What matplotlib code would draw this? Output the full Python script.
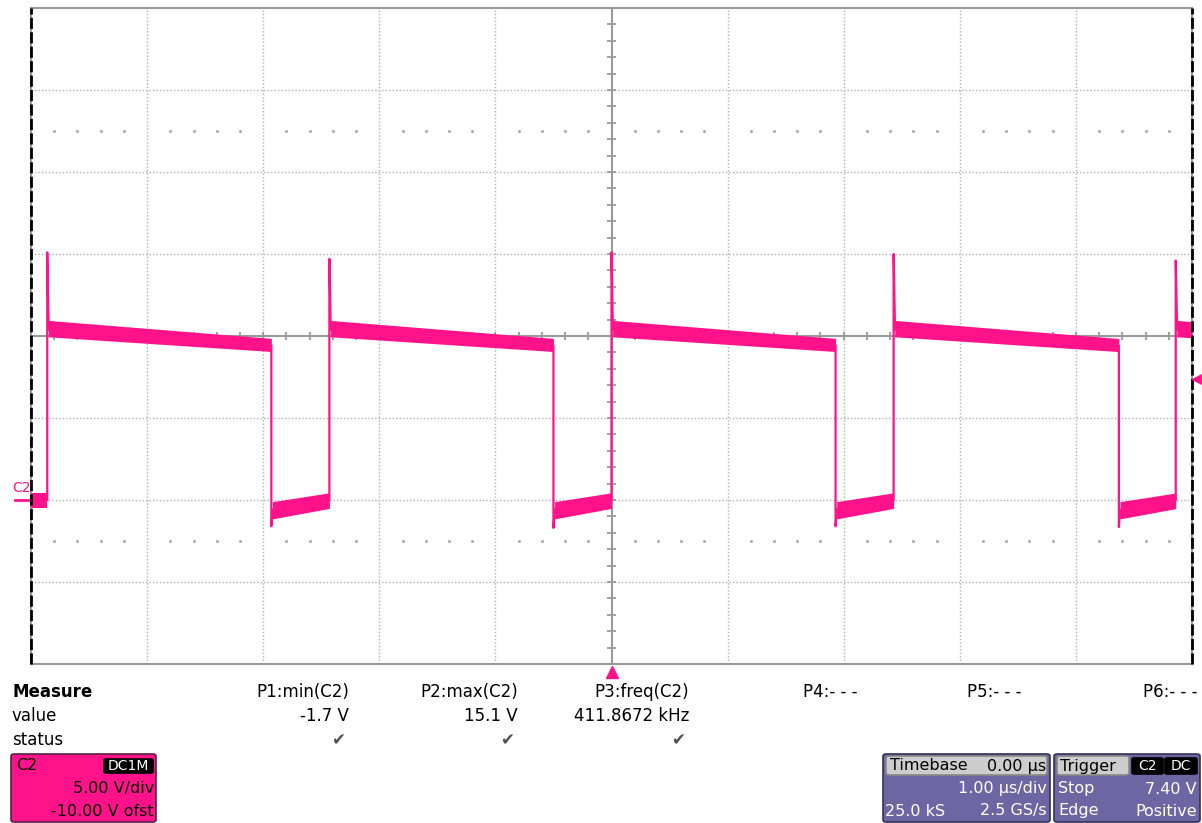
import numpy as np
import matplotlib
matplotlib.use("Agg")
import matplotlib.pyplot as plt
from matplotlib.patches import FancyBboxPatch

# Scope settings (1 us/div, 5 V/div, -10 V offset -> centre = 10 V)
t_min, t_max = -5.0, 5.0
v_min, v_max = -10.0, 30.0

# Edge times (us)
rise_us = [-4.86, -2.43, 0.0, 2.43, 4.86]
fall_us = [-2.93, -0.50, 1.93, 4.37]
spike_v = [15.1, 14.7, 15.1, 15.0, 14.6]        # overshoot on each rising edge
undershoot_v = [-1.6, -1.7, -1.6, -1.65]        # undershoot on each falling edge

# Noise band of the plateaus (lower, upper) at start / end of each plateau
high_start = [9.95, 10.95]
high_end = [9.05, 9.85]
low_start = [-1.15, -0.1]
low_end = [-0.5, 0.45]
high_len = 1.93
low_len = 0.50

pink = "#ff128a"
grid_c = "#b0b0b0"

fig = plt.figure(figsize=(12.02, 8.23), dpi=100)
W, H = 1202, 823
ax = fig.add_axes([31 / W, 1 - 664 / H, (1192 - 31) / W, (664 - 8) / H])
ax.set_xlim(t_min, t_max)
ax.set_ylim(v_min, v_max)
ax.set_xticks([])
ax.set_yticks([])
for s in ["top", "bottom", "left", "right"]:
    ax.spines[s].set_color("#999999")
    ax.spines[s].set_linewidth(1.5)

# grid
for t in range(-4, 5):
    if t != 0:
        ax.axvline(t, color=grid_c, lw=1, ls=(0, (1, 1.5)), zorder=1)
for v in [-5, 0, 5, 15, 20, 25]:
    ax.axhline(v, color=grid_c, lw=1, ls=(0, (1, 1.5)), zorder=1)
ax.axvline(0, color="#9a9a9a", lw=1.5, zorder=1)
ax.axhline(10, color="#9a9a9a", lw=1.5, zorder=1)

# ticks on the centre lines (1/5 div)
tick_t = np.arange(-4.8, 5.0, 0.2)
ax.vlines(tick_t, 10 - 0.25, 10 + 0.25, color="#9a9a9a", lw=1.3, zorder=1)
tick_v = np.arange(-9, 30, 1.0)
ax.hlines(tick_v, -0.035, 0.035, color="#9a9a9a", lw=1.3, zorder=1)

# dotted sub rows at +-2.5 div
dot_t = [t for t in np.arange(-4.8, 5.0, 0.2) if abs(t - round(t)) > 0.05]
for v in [-2.5, 22.5]:
    ax.plot(dot_t, [v] * len(dot_t), ls="none", marker="s", ms=1.0,
            color="#a8a8a8", zorder=1)

# dashed black side borders
for t in [t_min, t_max]:
    ax.axvline(t, color="black", lw=2, ls=(0, (4, 1.2)), zorder=6, clip_on=False)


def plateau(t_start, t_end, start, end, length):
    f = (t_end - t_start) / length
    lo = [start[0], start[0] + (end[0] - start[0]) * f]
    hi = [start[1], start[1] + (end[1] - start[1]) * f]
    ax.fill_between([t_start, t_end], lo, hi, color=pink, lw=0, zorder=3)


# initial low piece before the first rising edge
ax.fill_between([t_min, rise_us[0]], [low_end[0]] * 2, [low_end[1]] * 2,
                color=pink, lw=0, zorder=3)

for i, r in enumerate(rise_us):
    f = fall_us[i] if i < len(fall_us) else t_max
    plateau(r + 0.01, f, high_start, high_end, high_len)
    ax.plot([r, r, r + 0.012], [0.0, spike_v[i], 10.4], color=pink, lw=1.6, zorder=4)
for i, f in enumerate(fall_us):
    r = rise_us[i + 1]
    plateau(f + 0.01, r, low_start, low_end, low_len)
    ax.plot([f, f, f + 0.012], [9.4, undershoot_v[i], -0.6], color=pink, lw=1.6, zorder=4)

# channel ground marker, trigger level and trigger position markers
ax.plot([t_min - 0.14, t_min], [0, 0], color=pink, lw=2, clip_on=False)
ax.plot([t_max + 0.055], [7.40], marker="<", ms=9, color=pink, clip_on=False, zorder=7)
ax.plot([0], [v_min - 0.5], marker="^", ms=8, color=pink, clip_on=False)


def px(x, y):
    return x / W, 1 - y / H


fig.text(*px(12, 488), "C2", color=pink, fontsize=10, va="center")

# measurement table
fs = 12
fig.text(*px(12, 692), "Measure", fontsize=fs, fontweight="bold", va="center")
fig.text(*px(12, 716), "value", fontsize=fs, va="center")
fig.text(*px(12, 740), "status", fontsize=fs, va="center")

meas_names = ["P1:min(C2)", "P2:max(C2)", "P3:freq(C2)"]
meas_values = ["-1.7 V", "15.1 V", "411.8672 kHz"]
meas_right = [349, 518, 689]
for name, val, xr in zip(meas_names, meas_values, meas_right):
    fig.text(*px(xr, 692), name, fontsize=fs, ha="right", va="center")
    fig.text(*px(xr, 716), val, fontsize=fs, ha="right", va="center")
    fig.text(*px(xr - 11, 740), "\u2714", fontsize=fs, ha="center", va="center",
             color="#505050")

empty_names = ["P4:- - -", "P5:- - -", "P6:- - -"]
empty_left = [803, 967, 1143]
for name, xl in zip(empty_names, empty_left):
    fig.text(*px(xl, 692), name, fontsize=fs, ha="left", va="center")


def box(x0, y0, x1, y1, face, edge="#333355", pad=3):
    p = FancyBboxPatch((x0 / W, 1 - y1 / H), (x1 - x0) / W, (y1 - y0) / H,
                       boxstyle=f"round,pad=0,rounding_size={pad / W}",
                       transform=fig.transFigure, facecolor=face,
                       edgecolor=edge, lw=1.2)
    fig.patches.append(p)


bs = 11.5
# channel box
box(11, 754, 156, 822, pink, edge="#552244")
fig.text(*px(16, 766), "C2", fontsize=bs, va="center")
box(104, 759, 153, 773, "black", edge="black", pad=2)
fig.text(*px(128.5, 766), "DC1M", fontsize=10, color="white", ha="center", va="center")
fig.text(*px(154, 789), "5.00 V/div", fontsize=bs, ha="right", va="center")
fig.text(*px(154, 811), "-10.00 V ofst", fontsize=bs, ha="right", va="center")

# timebase box
purple = "#6e66a3"
box(883, 754, 1050, 822, purple)
box(886, 756, 1047, 775, "#cdcdcd", edge="#888888", pad=3)
fig.text(*px(890, 766), "Timebase", fontsize=bs, va="center")
fig.text(*px(1046, 766), "0.00 \u00b5s", fontsize=bs, ha="right", va="center")
fig.text(*px(1047, 789), "1.00 \u00b5s/div", fontsize=bs, ha="right", va="center", color="white")
fig.text(*px(885, 811), "25.0 kS", fontsize=bs, va="center", color="white")
fig.text(*px(1047, 811), "2.5 GS/s", fontsize=bs, ha="right", va="center", color="white")

# trigger box
box(1054, 754, 1200, 822, purple)
box(1057, 756, 1129, 775, "#cdcdcd", edge="#888888", pad=3)
fig.text(*px(1060, 766), "Trigger", fontsize=bs, va="center")
box(1132, 758, 1163, 774, "black", edge="black", pad=2)
fig.text(*px(1147.5, 766), "C2", fontsize=10, color="white", ha="center", va="center")
box(1165, 758, 1197, 774, "black", edge="black", pad=2)
fig.text(*px(1181, 766), "DC", fontsize=10, color="white", ha="center", va="center")
fig.text(*px(1058, 789), "Stop", fontsize=bs, va="center", color="white")
fig.text(*px(1197, 789), "7.40 V", fontsize=bs, ha="right", va="center", color="white")
fig.text(*px(1058, 811), "Edge", fontsize=bs, va="center", color="white")
fig.text(*px(1197, 811), "Positive", fontsize=bs, ha="right", va="center", color="white")

fig.savefig("out.png", dpi=100)
